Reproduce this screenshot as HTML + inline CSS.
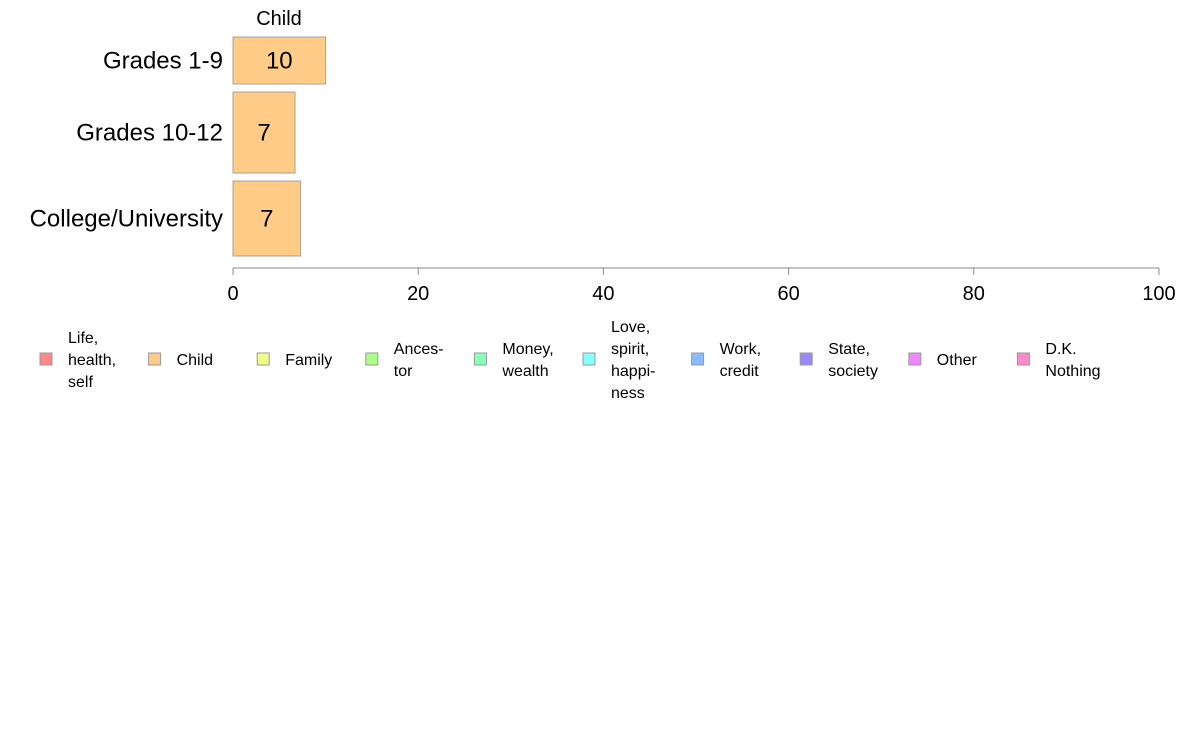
<!DOCTYPE html>
<html><head><meta charset="utf-8"><style>
body{margin:0;background:#fff;font-family:"Liberation Sans",Arial,sans-serif;}
svg text{font-family:"Liberation Sans",Arial,sans-serif;}
</style></head><body>
<svg id="chart" width="1188" height="736" xmlns="http://www.w3.org/2000/svg">
<text x="279" y="25" font-size="20" text-anchor="middle">Child</text>
<g id="bars"></g>
<g id="axis"></g>
<g id="legend"></g>
</svg>
<script>
const categories = ["Grades 1-9", "Grades 10-12", "College/University"];
const values = [10, 6.7, 7.3];
const labels = ["10", "7", "7"];
const weights = [47, 81, 75];
const ticks = [0, 20, 40, 60, 80, 100];
const legendLabels = [["Life,","health,","self"],["Child"],["Family"],["Ances-","tor"],["Money,","wealth"],["Love,","spirit,","happi-","ness"],["Work,","credit"],["State,","society"],["Other"],["D.K.","Nothing"]];
const legendColors = ["#ff8888","#ffcc88","#eeff88","#aaff88","#88ffbb","#88ffff","#88bbff","#9988ff","#ee88ff","#ff88cc"];

const NS = "http://www.w3.org/2000/svg";
const x0 = 233, x1 = 1159;
const xs = v => x0 + (x1 - x0) * v / 100;
function mk(tag, attrs, parent){const e=document.createElementNS(NS,tag);for(const k in attrs)e.setAttribute(k,attrs[k]);parent.appendChild(e);return e;}
const barsG = document.getElementById("bars");
let y = 37; const gap = 8;
categories.forEach((c,i)=>{
  const h = weights[i];
  const r = mk("rect",{x:x0,y:y,width:xs(values[i])-x0,height:h,fill:"#ffcc88",stroke:"#aaa296","stroke-width":1},barsG);
  
  
  const t = mk("text",{x:(x0+xs(values[i]))/2,y:y+h/2+8,"font-size":24,"text-anchor":"middle"},barsG);
  t.textContent = labels[i];
  
  
  const l = mk("text",{x:223,y:y+h/2+8,"font-size":24,"text-anchor":"end"},barsG);
  l.textContent = c;
  
  
  y += h + gap;
});
const axG = document.getElementById("axis");
const al = mk("line",{x1:x0,x2:x1,y1:268,y2:268,stroke:"#888"},axG);


ticks.forEach(v=>{
  const tk = mk("line",{x1:xs(v),x2:xs(v),y1:268,y2:275,stroke:"#888"},axG);
  
  
  const tl = mk("text",{x:xs(v),y:300,"font-size":20,"text-anchor":"middle"},axG);
  tl.textContent = v;
  
  
});
const lg = document.getElementById("legend");
legendLabels.forEach((lines,i)=>{
  const sx = 40 + i*108.6;
  const g = mk("g",{},lg);
  
  
  mk("rect",{x:sx,y:353,width:12,height:12,fill:legendColors[i],stroke:"#999"},g);
  const n = lines.length, lh = 22;
  const top = 359 - (n-1)*lh/2 + 6;
  lines.forEach((s,j)=>{
    const t = mk("text",{x:sx+28,y:top+j*lh,"font-size":16},g);
    t.textContent = s;
  });
});
</script>
</body></html>
